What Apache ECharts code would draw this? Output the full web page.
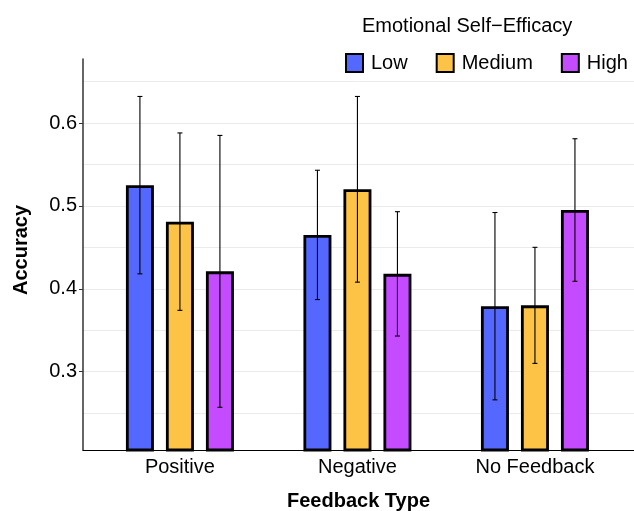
<!DOCTYPE html>
<html>
<head>
<meta charset="utf-8">
<script src="https://cdn.jsdelivr.net/npm/echarts@6/dist/echarts.min.js"></script>
<style>
  html, body { margin: 0; padding: 0; background: #fff; }
  #chart { width: 634px; height: 511px; }
</style>
</head>
<body>
<div id="chart"></div>
<script>
// Feedback conditions along the x axis (positions 1, 2, 3)
const categories = ['Positive', 'Negative', 'No Feedback'];
const groups = ['Low', 'Medium', 'High'];

// Mean accuracy per self-efficacy group
const lowMean    = [0.525, 0.465, 0.379];
const mediumMean = [0.481, 0.520, 0.380];
const highMean   = [0.421, 0.418, 0.495];

// Half-width of the error bars
const lowErr    = [0.107, 0.078, 0.113];
const mediumErr = [0.107, 0.112, 0.070];
const highErr   = [0.164, 0.075, 0.086];

const yTicks = [0.3, 0.4, 0.5, 0.6];
const yMinor = [0.25, 0.35, 0.45, 0.55, 0.65];

const colors = ['#5468FF', '#FDC347', '#C44BFF'];
const means = [lowMean, mediumMean, highMean];
const errs = [lowErr, mediumErr, highErr];

const BAR_W = 28;
const STEP = 40;  // centre-to-centre distance of dodged bars
const FONT = 'Liberation Sans, Arial, sans-serif';
const FS = 20;

const chart = echarts.init(document.getElementById('chart'));

const gridLines = yTicks.concat(yMinor).map(v => ({ yAxis: v }));

const barSeries = groups.map((g, j) => ({
  name: g,
  type: 'bar',
  barWidth: BAR_W,
  barGap: ((STEP - BAR_W) / BAR_W * 100) + '%',
  data: means[j].map((v, i) => [i + 1, v]),
  itemStyle: { color: colors[j], borderColor: '#000', borderWidth: 2.8 },
  z: 3,
  markLine: j === 0 ? {
    silent: true, symbol: 'none', label: { show: false },
    lineStyle: { color: '#ebebeb', type: 'solid', width: 1 },
    data: gridLines, z: 0
  } : undefined
}));

const errSeries = groups.map((g, j) => ({
  type: 'custom',
  z: 5,
  data: means[j].map((v, i) => [i + 1, v - errs[j][i], v + errs[j][i]]),
  renderItem: function (params, api) {
    const lo = api.coord([api.value(0), api.value(1)]);
    const hi = api.coord([api.value(0), api.value(2)]);
    const x = lo[0] + (j - 1) * STEP;
    const cap = 2.5;
    const style = { stroke: '#000', lineWidth: 1.1 };
    return {
      type: 'group',
      children: [
        { type: 'line', shape: { x1: x, y1: lo[1], x2: x, y2: hi[1] }, style },
        { type: 'line', shape: { x1: x - cap, y1: lo[1], x2: x + cap, y2: lo[1] }, style },
        { type: 'line', shape: { x1: x - cap, y1: hi[1], x2: x + cap, y2: hi[1] }, style }
      ]
    };
  }
}));

chart.setOption({
  animation: false,
  textStyle: { fontFamily: FONT },
  title: {
    text: 'Emotional Self\u2212Efficacy',
    left: 357, top: 11,
    textStyle: { fontFamily: FONT, fontSize: FS, fontWeight: 'normal', color: '#000' }
  },
  legend: {
    data: groups,
    left: 340, top: 48,
    itemWidth: 17, itemHeight: 18, itemGap: 28,
    icon: 'rect',
    textStyle: { fontFamily: FONT, fontSize: FS, color: '#000', padding: [0, 0, 0, 3] }
  },
  grid: { left: 83, right: 0, top: 59, bottom: 61, outerBoundsMode: 'none', containLabel: false },
  xAxis: {
    type: 'value',
    min: 0.454, max: 3.558,
    name: 'Feedback Type',
    nameLocation: 'middle',
    nameGap: 41,
    nameTextStyle: { fontFamily: FONT, fontSize: FS, fontWeight: 'bold', color: '#000' },
    axisLine: { show: true, lineStyle: { color: '#000', width: 1.2 } },
    axisTick: { show: false },
    splitLine: { show: false },
    axisLabel: {
      customValues: [1, 2, 3],
      formatter: v => categories[Math.round(v) - 1] || '',
      fontFamily: FONT, fontSize: FS, color: '#000', margin: 7
    }
  },
  yAxis: {
    type: 'value',
    min: 0.2055, max: 0.6772,
    name: 'Accuracy',
    nameLocation: 'middle',
    nameGap: 52,
    nameTextStyle: { fontFamily: FONT, fontSize: FS, fontWeight: 'bold', color: '#000', padding: [0, 0, 0, 9] },
    axisLine: { show: true, lineStyle: { color: '#333', width: 1.5 } },
    axisTick: { show: true, customValues: yTicks, length: 4, lineStyle: { color: '#333' } },
    splitLine: { show: false },
    axisLabel: {
      customValues: yTicks,
      formatter: v => v.toFixed(1),
      fontFamily: FONT, fontSize: FS, color: '#000', margin: 6
    }
  },
  series: barSeries.concat(errSeries)
});
</script>
</body>
</html>
